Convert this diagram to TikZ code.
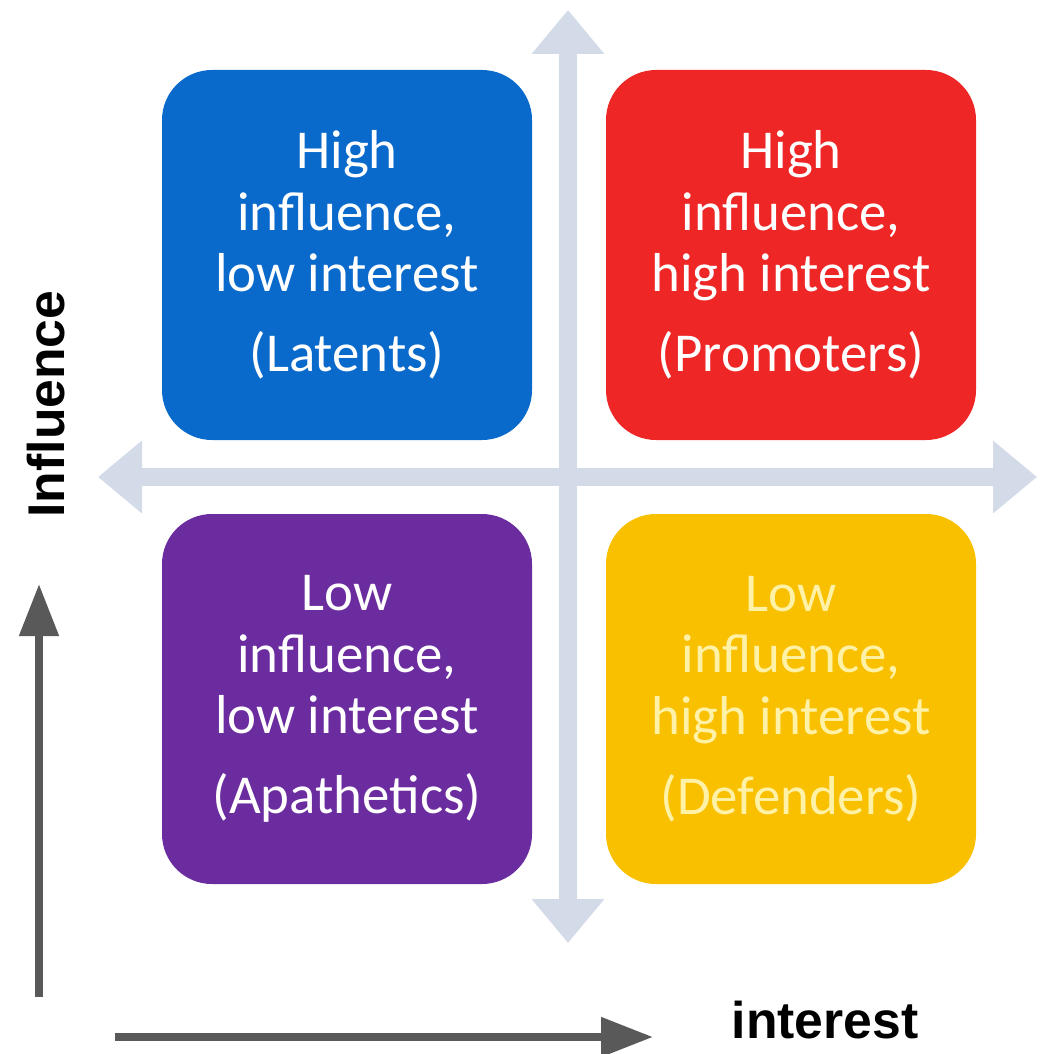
\documentclass[tikz,border=0pt]{standalone}
\usepackage{fontspec}
\setmainfont{Carlito}
\newfontfamily\labelfont{Liberation Sans}
\usepackage{tikz}
\usetikzlibrary{arrows.meta,positioning}

\definecolor{latentblue}{HTML}{0A6ACB}
\definecolor{promred}{HTML}{EE2626}
\definecolor{apathpurple}{HTML}{6B2C9F}
\definecolor{defyellow}{HTML}{F9C000}
\definecolor{defyellowtext}{HTML}{FFF2A6}
\definecolor{axisgray}{HTML}{D3DAE8}
\definecolor{arrowgray}{HTML}{595959}
\newcommand{\boxfont}{\fontsize{15.6}{17.5}\selectfont}

\begin{document}
\begin{tikzpicture}[node distance=4.44cm,on grid,
    quad/.style={rectangle,rounded corners=0.5cm,minimum size=3.7cm,inner sep=0pt,align=center,font=\boxfont},
    axisline/.style={line width=0.18cm,draw=axisgray,{Triangle[length=0.44cm,width=0.7cm]}-{Triangle[length=0.44cm,width=0.7cm]}},
    scalearrow/.style={line width=0.08cm,draw=arrowgray,-{Triangle[length=0.52cm,width=0.38cm]}},
    lab/.style={font=\labelfont\bfseries\fontsize{14.7}{17}\selectfont}]
    \useasboundingbox (0,0) rectangle (10.48,-10.54);
    % light cross
    \coordinate (up) at (5.68,-0.10);
    \coordinate (down) at (5.68,-9.43);
    \coordinate (left) at (0.98,-4.77);
    \coordinate (right) at (10.37,-4.77);
    \draw[axisline] (down) -- (up);
    \draw[axisline] (left) -- (right);
    % quadrants
    \node[quad,fill=latentblue,text=white] (latents) at (3.47,-2.55) {High\\influence,\\low interest\\[5.3pt](Latents)};
    \node[quad,fill=promred,text=white] [right=of latents] (promoters) {High\\influence,\\high interest\\[5.3pt](Promoters)};
    \node[quad,fill=apathpurple,text=white] [below=of latents] (apathetics) {Low\\influence,\\low interest\\[5.3pt](Apathetics)};
    \node[quad,fill=defyellow,text=defyellowtext] [below=of promoters] (defenders) {Low\\influence,\\high interest\\[5.3pt](Defenders)};
    % dark scale arrows
    \coordinate (yfoot) at (0.39,-9.97);
    \coordinate (ytip) at (0.39,-5.84);
    \coordinate (xfoot) at (1.15,-10.37);
    \coordinate (xtip) at (6.53,-10.37);
    \draw[scalearrow] (yfoot) -- (ytip);
    \draw[scalearrow] (xfoot) -- (xtip);
    \node[lab,rotate=90] (influence) at (0.46,-4.04) {Influence};
    \node[lab] (interest) at (8.25,-10.20) {interest};
\end{tikzpicture}
\end{document}
